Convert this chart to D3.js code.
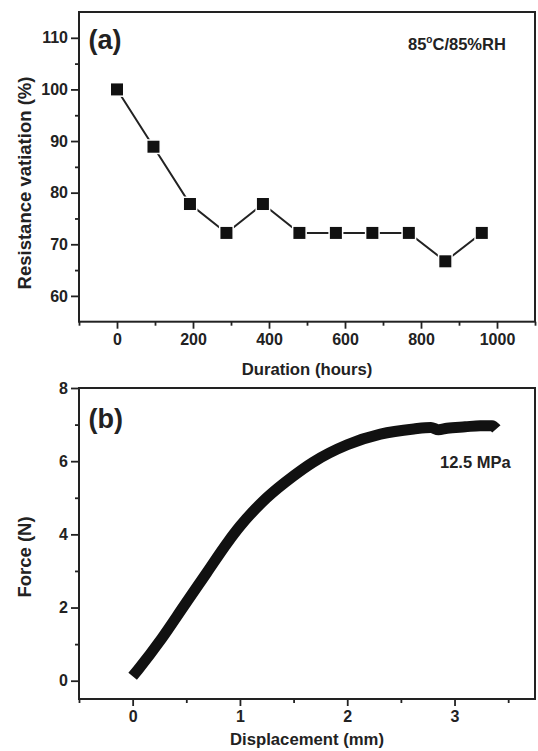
<!DOCTYPE html>
<html>
<head>
<meta charset="utf-8">
<script src="https://cdn.jsdelivr.net/npm/d3@7"></script>
<style>
  body { margin: 0; background: #fff; }
  svg text { font-family: Arial, "Liberation Sans", sans-serif; font-weight: bold; fill: #222; }
</style>
</head>
<body>
<div id="chart"></div>
<script>
// (a) resistance variation during 85C/85%RH ageing
const hours = [0, 96, 192, 288, 384, 480, 576, 672, 768, 864, 960];
const resistance = [100, 88.9, 77.8, 72.2, 77.8, 72.2, 72.2, 72.2, 72.2, 66.7, 72.2];
const hourTicks = [0, 200, 400, 600, 800, 1000];
const hourMinor = [-100, 100, 300, 500, 700, 900, 1100];
const resTicks = [60, 70, 80, 90, 100, 110];
const resMinor = [65, 75, 85, 95, 105];

// (b) force vs displacement (shear test)
const displacement = [0.0, 0.05, 0.27, 0.48, 0.69, 0.89, 1.0, 1.25, 1.5, 1.68, 2.0, 2.31, 2.62, 2.78, 2.85, 2.93, 3.1, 3.24, 3.35, 3.39];
const force = [0.12, 0.3, 1.15, 2.05, 2.95, 3.8, 4.22, 5.0, 5.6, 5.97, 6.45, 6.74, 6.88, 6.92, 6.86, 6.9, 6.94, 6.97, 6.97, 6.88];
const dispTicks = [0, 1, 2, 3];
const dispMinor = [-0.5, 0.5, 1.5, 2.5, 3.5];
const forceTicks = [0, 2, 4, 6, 8];
const forceMinor = [1, 3, 5, 7];

const W = 538, H = 751;
const ink = "#222";

const svg = d3.select("#chart").append("svg")
    .attr("width", W)
    .attr("height", H);

// draws ticks + frame for one panel
function drawFrame(x, y, xt, xm, yt, ym) {
  const g = svg.append("g");
  const [x0, x1] = x.range();
  const [y0, y1] = y.range();
  const fmt = d => String(d);

  g.append("g").attr("transform", `translate(0,${y0})`)
      .call(d3.axisBottom(x).tickValues(xt).tickFormat(fmt)
                .tickSize(7).tickPadding(5).tickSizeOuter(0));
  g.append("g").attr("transform", `translate(0,${y0})`)
      .call(d3.axisBottom(x).tickValues(xm).tickSize(4).tickFormat("").tickSizeOuter(0));
  g.append("g").attr("transform", `translate(${x0},0)`)
      .call(d3.axisLeft(y).tickValues(yt).tickFormat(fmt)
                .tickSize(8).tickPadding(3).tickSizeOuter(0));
  g.append("g").attr("transform", `translate(${x0},0)`)
      .call(d3.axisLeft(y).tickValues(ym).tickSize(4).tickFormat("").tickSizeOuter(0));

  g.selectAll(".domain").remove();
  g.selectAll(".tick line").attr("stroke", ink).attr("stroke-width", 1.8);
  g.selectAll(".tick text").attr("font-size", 16).attr("fill", ink)
      .attr("font-family", "Arial, 'Liberation Sans', sans-serif")
      .attr("font-weight", "bold");

  g.append("rect")
      .attr("x", x0).attr("y", y1)
      .attr("width", x1 - x0).attr("height", y0 - y1)
      .attr("fill", "none")
      .attr("stroke", ink)
      .attr("stroke-width", 2);
  return g;
}

// ---------- panel (a) ----------
const xa = d3.scaleLinear().domain([-100, 1100]).range([79, 535]);
const ya = d3.scaleLinear().domain([55, 115]).range([321.7, 12]);

const ptsA = hours.map((h, i) => ({ x: h, y: resistance[i] }));

svg.append("path")
    .datum(ptsA)
    .attr("fill", "none")
    .attr("stroke", ink)
    .attr("stroke-width", 2)
    .attr("d", d3.line().x(d => xa(d.x)).y(d => ya(d.y)));

svg.append("g").selectAll("rect")
    .data(ptsA)
    .join("rect")
    .attr("x", d => xa(d.x) - 6.75)
    .attr("y", d => ya(d.y) - 6.75)
    .attr("width", 13.5)
    .attr("height", 13.5)
    .attr("fill", "#111")
    .attr("stroke", "#fff")
    .attr("stroke-width", 1.5);

drawFrame(xa, ya, hourTicks, hourMinor, resTicks, resMinor);

svg.append("text").attr("x", 88.5).attr("y", 49)
    .attr("font-size", 27).text("(a)");

const cond = svg.append("text").attr("x", 408).attr("y", 50).attr("font-size", 16.5);
cond.append("tspan").text("85");
cond.append("tspan").attr("font-size", 10).attr("dy", -7).text("o");
cond.append("tspan").attr("dy", 7).text("C/85%RH");

svg.append("text")
    .attr("transform", "translate(30.5,183) rotate(-90)")
    .attr("text-anchor", "middle")
    .attr("font-size", 18.5)
    .text("Resistance vatiation (%)");

svg.append("text")
    .attr("x", 307).attr("y", 375)
    .attr("text-anchor", "middle")
    .attr("font-size", 16.7)
    .text("Duration (hours)");

// ---------- panel (b) ----------
const xb = d3.scaleLinear().domain([-0.5, 3.75]).range([79, 535]);
const yb = d3.scaleLinear().domain([-0.5, 8]).range([699, 388]);

const ptsB = displacement.map((d, i) => ({ x: d, y: force[i] }));

svg.append("path")
    .datum(ptsB)
    .attr("fill", "none")
    .attr("stroke", "#111")
    .attr("stroke-width", 11)
    .attr("stroke-linecap", "butt")
    .attr("d", d3.line().curve(d3.curveMonotoneX).x(d => xb(d.x)).y(d => yb(d.y)));

drawFrame(xb, yb, dispTicks, dispMinor, forceTicks, forceMinor);

svg.append("text").attr("x", 88.5).attr("y", 428)
    .attr("font-size", 27).text("(b)");

svg.append("text").attr("x", 440).attr("y", 467.5)
    .attr("font-size", 16.5).text("12.5 MPa");

svg.append("text")
    .attr("transform", "translate(30.5,557) rotate(-90)")
    .attr("text-anchor", "middle")
    .attr("font-size", 18.5)
    .text("Force (N)");

svg.append("text")
    .attr("x", 307).attr("y", 745)
    .attr("text-anchor", "middle")
    .attr("font-size", 16.7)
    .text("Displacement (mm)");
</script>
</body>
</html>
